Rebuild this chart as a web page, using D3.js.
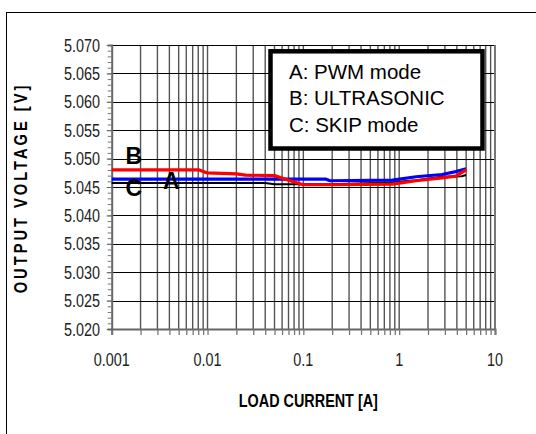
<!DOCTYPE html>
<html><head><meta charset="utf-8">
<script src="https://cdn.jsdelivr.net/npm/d3@7"></script>
<style>body{margin:0;background:#fff}svg{display:block}</style>
</head><body>
<script>
// ---- data ----
const xTickValues = [0.001, 0.01, 0.1, 1, 10];
const xTickLabels = ["0.001", "0.01", "0.1", "1", "10"];
const yTickValues = [5.020, 5.025, 5.030, 5.035, 5.040, 5.045, 5.050, 5.055, 5.060, 5.065, 5.070];
const yTickLabels = ["5.020","5.025","5.030","5.035","5.040","5.045","5.050","5.055","5.060","5.065","5.070"];
const legendLabels = ["A: PWM mode", "B: ULTRASONIC", "C: SKIP mode"];
const curveLetters = ["A", "B", "C"];

// A: PWM mode (blue)
const pwmCurrent = [0.001, 0.17, 0.19, 0.85, 1.5, 2.8, 3.9, 5.0];
const pwmVoltage = [5.0464, 5.0464, 5.0461, 5.0462, 5.0468, 5.0472, 5.0477, 5.0482];
// B: ULTRASONIC (red)
const ultraCurrent = [0.001, 0.0082, 0.0098, 0.02, 0.025, 0.05, 0.07, 0.1, 0.2, 0.85, 1.5, 2.8, 3.9, 5.0];
const ultraVoltage = [5.0480, 5.0480, 5.0475, 5.0473, 5.0471, 5.0470, 5.0462, 5.0454, 5.0454, 5.0455, 5.0461, 5.0466, 5.0469, 5.0480];
// C: SKIP mode (black)
const skipCurrent = [0.001, 0.04, 0.05, 0.2, 0.8, 1.5, 2.8, 4.5, 5.0];
const skipVoltage = [5.0457, 5.0457, 5.0455, 5.0455, 5.0458, 5.0462, 5.0468, 5.0469, 5.0471];

// ---- layout ----
const W = 536, H = 434;
const L = 111.7, R = 495, T = 45, B = 329;
const svg = d3.select("body").append("svg").attr("width", W).attr("height", H);

// outer frame
svg.append("rect").attr("x", 6.5).attr("y", 12.5).attr("width", 600).attr("height", 600)
  .attr("fill", "none").attr("stroke", "#000").attr("stroke-width", 1);

const x = d3.scaleLog().domain([0.001, 10]).range([L, R]);
const y = d3.scaleLinear().domain([5.020, 5.070]).range([B, T]);

const sans = "'Liberation Sans',Arial,sans-serif";
const SX = 0.8; // horizontal condensation for narrow-looking text

function narrowText(g, px, py, str, opts) {
  const t = g.append("text")
    .attr("transform", `translate(${px},${py}) scale(${opts.sx || SX},1)`)
    .attr("text-anchor", opts.anchor || "middle")
    .style("font-family", sans).style("font-size", opts.size + "px")
    .attr("fill", opts.fill || "#000");
  if (opts.bold) t.style("font-weight", "bold");
  t.text(str);
  return t;
}

// minor x positions
const xMinor = [];
for (let e = -3; e < 1; e++) for (let m = 1; m <= 9; m++) xMinor.push(m * Math.pow(10, e));
xMinor.push(10);

const grid = svg.append("g");
grid.selectAll("line.v").data(xMinor.filter(v => v > 0.001 && v < 10)).enter().append("line")
  .attr("x1", d => x(d)).attr("x2", d => x(d)).attr("y1", T).attr("y2", B)
  .attr("stroke", "#555").attr("stroke-width", 1.4);
grid.selectAll("line.h").data(yTickValues.filter(v => v > 5.020)).enter().append("line")
  .attr("x1", L).attr("x2", R).attr("y1", d => Math.round(y(d)) + 0.5).attr("y2", d => Math.round(y(d)) + 0.5)
  .attr("stroke", "#000").attr("stroke-width", 1);
svg.append("line").attr("x1", R).attr("x2", R).attr("y1", T).attr("y2", B)
  .attr("stroke", "#777").attr("stroke-width", 2);

// x axis
const gx = svg.append("g").attr("transform", `translate(0,${B})`)
  .call(d3.axisBottom(x).tickValues(xMinor).tickSize(6).tickFormat(""));
gx.select(".domain").attr("stroke", "#666").attr("stroke-width", 2);
gx.selectAll(".tick line").attr("stroke", "#777").attr("stroke-width", 1.3);
const gxl = svg.append("g");
xTickValues.forEach((v, i) => narrowText(gxl, x(v), 366, xTickLabels[i], {size: 18, fill: "#222"}));

// y axis
const yMinor = d3.range(5020, 5071, 1).map(v => v / 1000);
const gyMinor = svg.append("g").attr("transform", `translate(${L},0)`)
  .call(d3.axisLeft(y).tickValues(yMinor).tickSize(4).tickFormat(""));
gyMinor.select(".domain").attr("stroke", "#666").attr("stroke-width", 2);
gyMinor.selectAll(".tick line").attr("stroke", "#777");
const gy = svg.append("g").attr("transform", `translate(${L},0)`)
  .call(d3.axisLeft(y).tickValues(yTickValues).tickSize(5).tickFormat(""));
gy.select(".domain").remove();
gy.selectAll(".tick line").attr("stroke", "#666");
const gyl = svg.append("g");
yTickValues.forEach((v, i) => narrowText(gyl, 100, y(v) + 6.5, yTickLabels[i], {size: 18, fill: "#222", anchor: "end"}));

// axis titles
narrowText(svg, (L + R) / 2 + 5, 407, "LOAD CURRENT [A]", {size: 18, bold: true});
svg.append("text").attr("transform", "translate(27,188) rotate(-90) scale(0.82,1)").attr("text-anchor", "middle")
  .style("font-family", sans).style("font-size", "18px").style("font-weight", "bold")
  .style("letter-spacing", "3.6px").text("OUTPUT VOLTAGE [V]");

// curves
const line = d3.line().x(d => x(d[0])).y(d => y(d[1]));
const series = [
  {c: skipCurrent, v: skipVoltage, color: "#000", w: 2},
  {c: pwmCurrent, v: pwmVoltage, color: "#0000ff", w: 3.2},
  {c: ultraCurrent, v: ultraVoltage, color: "#ff0000", w: 3.2}
];
series.forEach(s => {
  svg.append("path").datum(d3.zip(s.c, s.v)).attr("d", line)
    .attr("fill", "none").attr("stroke", s.color).attr("stroke-width", s.w).attr("stroke-linejoin", "round");
});

// curve letters
const letterPos = [[0.0042, 5.0446], [0.0017, 5.0490], [0.0017, 5.0434]];
curveLetters.forEach((t, i) => {
  svg.append("text").attr("x", x(letterPos[i][0])).attr("y", y(letterPos[i][1]))
    .attr("text-anchor", "middle").style("font-family", sans)
    .style("font-size", "23px").style("font-weight", "bold").text(t);
});

// legend box
svg.append("rect").attr("x", 270.5).attr("y", 51.3).attr("width", 212).attr("height", 97.2)
  .attr("fill", "#fff").attr("stroke", "#000").attr("stroke-width", 4.5);
legendLabels.forEach((t, i) => {
  svg.append("text").attr("x", 289).attr("y", 78.5 + i * 26.7)
    .style("font-family", sans).style("font-size", "20.5px")
    .attr("fill", "#000").text(t);
});
</script>
</body></html>
